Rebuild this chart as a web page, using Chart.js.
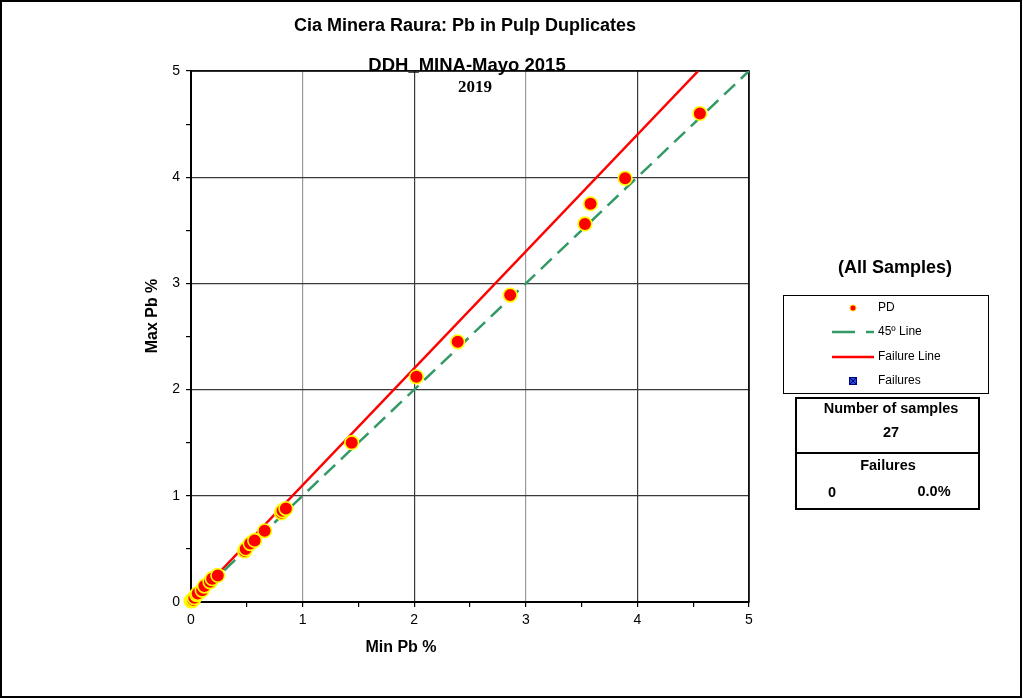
<!DOCTYPE html>
<html>
<head>
<meta charset="utf-8">
<title>Pb in Pulp Duplicates</title>
<script src="https://cdn.jsdelivr.net/npm/chart.js@4.4.1/dist/chart.umd.min.js"></script>
<style>
  html, body { margin: 0; padding: 0; background: #fff; }
  canvas { display: block; }
</style>
</head>
<body>
<canvas id="chart" width="1023" height="699"></canvas>
<script>
// --- data ---
const minPb = [0.00, 0.01, 0.02, 0.03, 0.05, 0.06, 0.10, 0.12, 0.17, 0.19, 0.24,
               0.48, 0.49, 0.53, 0.57, 0.66, 0.81, 0.82, 0.85,
               1.44, 2.02, 2.39, 2.86, 3.53, 3.58, 3.89, 4.56];
const maxPb = [0.01, 0.01, 0.02, 0.04, 0.07, 0.08, 0.11, 0.15, 0.19, 0.22, 0.25,
               0.48, 0.50, 0.55, 0.58, 0.67, 0.84, 0.86, 0.88,
               1.50, 2.12, 2.45, 2.89, 3.56, 3.75, 3.99, 4.60];
const lineX    = [0, 5];
const lineY    = [0, 5];
const failX    = [0, 4.545];
const failY    = [0, 5];
const failures = [];
const axisTicks = [0, 1, 2, 3, 4, 5];

const nSamples = minPb.length;
const nFail    = failures.length;

const FONT = '"Liberation Sans", Arial, sans-serif';
const GREEN = '#339966';
const RED   = '#ff0000';

const toPts = (xs, ys) => xs.map((x, i) => ({ x, y: ys[i] }));

// gridline shade per integer value (vertical lines alternate in the picture)
const xGrid = v => (v === 1 || v === 3) ? '#9a9a9a' : '#3a3a3a';

// integer ticks plus unlabeled half-step ticks
const halfSteps = s => {
  s.ticks = [];
  axisTicks.forEach((v, i) => {
    s.ticks.push({ value: v });
    if (i < axisTicks.length - 1) s.ticks.push({ value: v + 0.5 });
  });
};

const decorations = {
  id: 'decorations',
  beforeDatasetsDraw(chart) {
    const { ctx, chartArea: a } = chart;
    ctx.save();
    ctx.strokeStyle = '#000';
    ctx.lineWidth = 1.5;
    ctx.strokeRect(a.left, a.top, a.right - a.left, a.bottom - a.top);
    ctx.restore();
  },
  afterDraw(chart) {
    const { ctx } = chart;
    ctx.save();

    // outer frame
    ctx.strokeStyle = '#000';
    ctx.lineWidth = 2;
    ctx.strokeRect(1, 1, 1020, 696);

    // titles
    ctx.fillStyle = '#000';
    ctx.textAlign = 'center';
    ctx.textBaseline = 'middle';
    ctx.font = 'bold 18px ' + FONT;
    ctx.fillText('Cia Minera Raura: Pb in Pulp Duplicates', 465, 26);
    ctx.font = 'bold 18.5px ' + FONT;
    ctx.fillText('DDH_MINA-Mayo 2015', 467, 66);
    ctx.font = 'bold 17px "Liberation Serif", "Times New Roman", serif';
    ctx.fillText('2019', 475, 88);

    // axis titles
    ctx.font = 'bold 16px ' + FONT;
    ctx.fillText('Min Pb %', 401, 648);
    ctx.save();
    ctx.translate(153, 316);
    ctx.rotate(-Math.PI / 2);
    ctx.fillText('Max Pb %', 0, 0);
    ctx.restore();

    // legend
    ctx.font = 'bold 18px ' + FONT;
    ctx.fillText('(All Samples)', 895, 268);

    ctx.lineWidth = 1;
    ctx.strokeStyle = '#000';
    ctx.strokeRect(783.5, 295.5, 205, 98);

    ctx.font = '12px ' + FONT;
    ctx.textAlign = 'left';
    const tx = 878;
    // PD
    ctx.beginPath();
    ctx.arc(853, 308, 3, 0, Math.PI * 2);
    ctx.fillStyle = RED; ctx.fill();
    ctx.strokeStyle = '#ffcc00'; ctx.lineWidth = 1; ctx.stroke();
    ctx.fillStyle = '#000';
    ctx.fillText(chart.data.datasets[0].label, tx, 308);
    // 45 line
    ctx.strokeStyle = GREEN; ctx.lineWidth = 2.5;
    ctx.beginPath(); ctx.moveTo(832, 332); ctx.lineTo(855, 332);
    ctx.moveTo(866, 332); ctx.lineTo(874, 332); ctx.stroke();
    ctx.fillText(chart.data.datasets[1].label, tx, 332);
    // failure line
    ctx.strokeStyle = RED;
    ctx.beginPath(); ctx.moveTo(832, 357); ctx.lineTo(874, 357); ctx.stroke();
    ctx.fillText(chart.data.datasets[2].label, tx, 357);
    // failures marker
    ctx.fillStyle = '#1f4fd0';
    ctx.fillRect(849.5, 377.5, 7, 7);
    ctx.strokeStyle = '#000080'; ctx.lineWidth = 1;
    ctx.strokeRect(849.5, 377.5, 7, 7);
    ctx.beginPath(); ctx.moveTo(850, 378); ctx.lineTo(856, 384);
    ctx.moveTo(856, 378); ctx.lineTo(850, 384); ctx.stroke();
    ctx.fillStyle = '#000';
    ctx.fillText(chart.data.datasets[3].label, tx, 381);

    // stats boxes
    ctx.strokeStyle = '#000';
    ctx.lineWidth = 2;
    ctx.strokeRect(796, 398, 183, 111);
    ctx.beginPath(); ctx.moveTo(796, 453); ctx.lineTo(979, 453); ctx.stroke();

    ctx.font = 'bold 14.5px ' + FONT;
    ctx.textAlign = 'center';
    ctx.fillText('Number of samples', 891, 409);
    ctx.fillText(String(nSamples), 891, 433);
    ctx.fillText('Failures', 888, 466);
    ctx.fillText(String(nFail), 832, 493);
    ctx.fillText((nFail / nSamples * 100).toFixed(1) + '%', 934, 492);

    ctx.restore();
  }
};

new Chart(document.getElementById('chart'), {
  type: 'scatter',
  data: {
    datasets: [
      {
        label: 'PD',
        data: toPts(minPb, maxPb),
        clip: false,
        pointRadius: 6.8,
        pointBackgroundColor: RED,
        pointBorderColor: '#ffff00',
        pointBorderWidth: 1.6,
      },
      {
        label: '45º Line',
        data: toPts(lineX, lineY),
        showLine: true,
        borderColor: GREEN,
        borderWidth: 2.5,
        borderDash: [15, 8],
        pointRadius: 0,
      },
      {
        label: 'Failure Line',
        data: toPts(failX, failY),
        showLine: true,
        borderColor: RED,
        borderWidth: 2.5,
        pointRadius: 0,
      },
      {
        label: 'Failures',
        data: failures,
        pointStyle: 'rect',
        pointBackgroundColor: '#1f4fd0',
        pointBorderColor: '#000080',
      },
    ],
  },
  options: {
    responsive: false,
    animation: false,
    events: [],
    layout: { padding: { top: 71, right: 274, left: 0, bottom: 0 } },
    plugins: { legend: { display: false }, tooltip: { enabled: false } },
    scales: {
      x: {
        type: 'linear', min: 0, max: 5,
        afterFit: s => { s.height = 97; },
        afterBuildTicks: halfSteps,
        ticks: {
          color: '#000', font: { family: FONT, size: 14 }, padding: 5,
          maxRotation: 0, autoSkip: false,
          callback: v => (v % 1 === 0 ? v : ''),
        },
        grid: {
          color: c => (c.tick && c.tick.value % 1 === 0 ? xGrid(c.tick.value) : 'rgba(0,0,0,0)'),
          tickColor: '#000', tickLength: 5, lineWidth: 1.2,
        },
        border: { color: '#000', width: 2 },
      },
      y: {
        type: 'linear', min: 0, max: 5,
        afterFit: s => { s.width = 191; },
        afterBuildTicks: halfSteps,
        ticks: {
          color: '#000', font: { family: FONT, size: 14 }, padding: 6,
          autoSkip: false,
          callback: v => (v % 1 === 0 ? v : ''),
        },
        grid: {
          color: c => (c.tick && c.tick.value % 1 === 0 ? '#3a3a3a' : 'rgba(0,0,0,0)'),
          tickColor: '#000', tickLength: 5, lineWidth: 1.2,
        },
        border: { color: '#000', width: 2 },
      },
    },
  },
  plugins: [decorations],
});
</script>
</body>
</html>
